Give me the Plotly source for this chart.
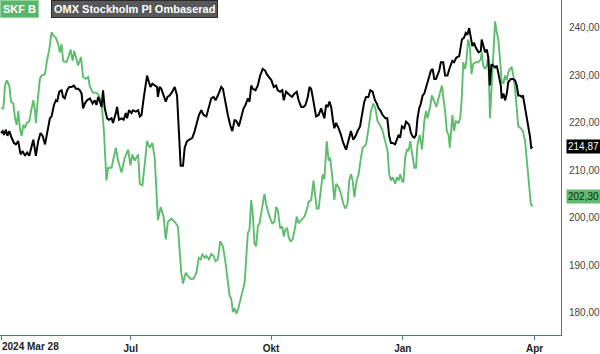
import plotly.graph_objects as go

# ---- data (trading-day index since 2024-03-28, value) ----
skf_day = [0, 1.1, 1.9, 2.7, 3.9, 4.7, 5.8, 6.6, 7.4, 8.1, 8.9, 9.7, 10.5, 11.3, 12.1, 13.3, 14.4, 15.2, 16.0, 16.4,
           17.2, 18.3, 19.1, 20.7, 21.5, 22.7, 23.8, 24.9, 25.8, 26.9, 27.7, 28.5, 29.2, 30.8, 31.9, 32.7, 33.7, 34.4,
           35.5, 36.3, 37.6, 38.6, 39.9, 41.0, 41.8, 43.2, 44.9, 46.0, 47.3, 48.4, 49.6, 50.4, 52.0, 54.0, 55.1, 56.7,
           58.2, 59.8, 60.9, 61.8, 62.9, 64.5, 65.3, 66.5, 67.6, 68.7, 70.0, 71.2, 72.3, 73.8, 75.1, 76.5, 77.5, 78.5,
           80.1, 81.7, 83.2, 84.0, 84.8, 85.6, 86.9, 87.9, 89.1, 90.6, 91.9, 93.0, 93.9, 94.7, 95.8, 96.6, 97.8, 98.9,
           100.0, 100.9, 102.0, 103.1, 104.4, 105.6, 106.4, 107.5, 108.3, 109.1, 109.9, 110.7, 111.4, 112.2, 113.5,
           114.6, 115.4, 116.1, 116.9, 117.7, 118.5, 119.2, 120.0, 120.8, 121.6, 122.9, 123.9, 125.0, 126.3, 127.6,
           128.6, 129.4, 130.2, 131.3, 132.3, 133.0, 133.8, 134.6, 135.4, 136.2, 137.2, 138.4, 139.1, 140.0, 141.2,
           142.7, 143.8, 144.7, 145.9, 147.0, 147.7, 148.5, 149.4, 150.6, 151.3, 152.1, 153.2, 154.1, 154.8, 155.7,
           156.8, 157.6, 158.8, 159.9, 161.0, 162.0, 163.0, 163.8, 164.6, 165.4, 166.2, 167.3, 168.2, 169.3, 170.1,
           170.9, 171.7, 172.9, 174.0, 175.1, 176.1, 177.1, 178.3, 179.5, 180.8, 181.8, 182.6, 183.4, 184.2, 185.4,
           186.2, 187.0, 187.8, 188.6, 189.3, 190.1, 190.9, 191.7, 192.5, 193.6, 194.4, 195.2, 195.9, 197.0, 198.0,
           199.1, 199.9, 200.6, 201.7, 202.7, 203.8, 204.8, 205.8, 206.6, 207.4, 208.1, 208.9, 209.7, 210.5, 211.1,
           211.6, 212.3, 213.1, 213.9, 215.2, 216.0, 216.8, 217.4, 218.3, 218.9, 219.7, 220.5, 221.3, 222.1, 223.3,
           224.6, 225.7, 226.1, 226.8, 227.7, 228.5, 229.2, 230.0, 230.8, 231.6, 232.4, 233.2, 233.9, 234.7, 235.5,
           236.3, 237.1, 237.9, 238.6, 239.4, 240.2, 241.0, 241.8, 242.6, 243.3, 244.5, 245.5, 246.5, 247.6, 248.4,
           249.2, 250.0]
skf = [223.0, 223.0, 227.8, 228.9, 227.8, 224.4, 224.0, 220.9, 219.5, 222.4, 218.8, 217.2, 219.5, 218.8, 219.9, 220.3,
       223.0, 224.7, 222.4, 219.9, 224.4, 229.2, 229.9, 230.2, 232.7, 235.4, 239.0, 238.2, 237.9, 236.5, 234.8, 236.5,
       233.0, 232.7, 234.0, 235.4, 233.0, 235.1, 233.4, 232.0, 233.8, 229.6, 229.2, 229.6, 227.6, 226.3, 226.3, 225.7,
       224.2, 218.2, 207.8, 210.5, 210.5, 214.7, 212.0, 209.5, 212.6, 214.3, 211.0, 213.3, 212.0, 213.3, 207.1, 206.8,
       211.2, 216.1, 214.7, 215.7, 212.6, 199.5, 202.2, 200.2, 195.4, 199.1, 199.8, 199.1, 198.1, 192.6, 188.4, 186.1,
       188.4, 187.7, 187.1, 187.1, 188.4, 191.5, 191.2, 192.3, 191.5, 191.9, 191.2, 192.3, 191.9, 190.8, 191.2, 195.0,
       193.9, 190.5, 187.1, 183.6, 182.9, 180.1, 180.9, 179.8, 180.5, 182.2, 184.3, 186.3, 191.2, 196.7, 197.5, 203.7,
       200.2, 194.6, 193.9, 198.1, 198.8, 202.9, 205.0, 202.2, 200.2, 198.8, 199.1, 202.2, 201.6, 197.7, 198.1, 196.0,
       197.5, 197.7, 195.7, 195.0, 195.4, 198.1, 200.2, 198.8, 199.5, 200.2, 201.6, 203.3, 203.7, 207.8, 205.0, 201.9,
       201.9, 206.4, 209.1, 208.1, 216.1, 212.0, 212.6, 209.1, 203.7, 207.1, 206.4, 205.0, 202.9, 201.9, 202.9, 207.8,
       209.1, 207.8, 204.3, 207.8, 209.1, 212.6, 214.7, 215.0, 215.4, 218.8, 222.4, 224.0, 223.0, 220.3, 219.5, 218.2,
       216.1, 214.1, 209.1, 207.8, 208.5, 207.1, 208.5, 207.8, 209.1, 207.8, 207.4, 212.6, 214.3, 214.0, 216.1, 212.6,
       210.5, 210.5, 215.4, 217.4, 214.3, 220.3, 222.4, 220.9, 223.0, 225.7, 224.4, 223.3, 225.1, 226.5, 227.8, 225.1,
       222.4, 218.2, 217.4, 214.7, 218.2, 221.6, 218.2, 220.3, 219.9, 220.9, 225.7, 232.7, 231.3, 233.0, 237.5, 236.1,
       230.2, 232.3, 232.7, 232.7, 233.4, 234.8, 232.0, 231.3, 232.0, 234.0, 220.9, 228.6, 235.4, 241.3, 239.0, 237.5,
       233.4, 228.6, 228.2, 229.9, 228.9, 230.6, 231.3, 231.6, 229.9, 227.1, 223.0, 219.2, 218.8, 218.2, 216.1, 211.2,
       207.1, 202.9, 202.30]

omx_day = [0, 0.8, 1.4, 2.3, 3.0, 3.9, 5.0, 6.1, 7.0, 8.1, 9.2, 10.2, 11.3, 12.3, 13.3, 14.4, 15.2, 16.4, 17.5, 18.6,
           19.6, 20.7, 21.7, 23.0, 23.8, 24.9, 25.8, 26.4, 27.4, 28.5, 29.2, 30.0, 31.1, 32.1, 33.2, 34.3, 35.2, 36.3,
           37.1, 37.9, 38.6, 39.4, 40.5, 41.8, 43.1, 44.1, 44.9, 45.7, 46.5, 47.3, 48.0, 48.8, 49.9, 50.8, 52.0, 52.7,
           54.0, 54.6, 55.5, 56.7, 57.7, 58.7, 59.3, 60.2, 61.4, 62.1, 63.4, 64.5, 65.3, 66.1, 67.1, 68.1, 68.7, 69.6,
           70.3, 71.2, 72.3, 73.4, 73.8, 74.6, 75.4, 76.5, 77.5, 78.3, 79.3, 80.6, 81.7, 82.8, 83.7, 84.5, 85.6, 86.4,
           87.5, 88.7, 90.0, 91.1, 92.2, 93.1, 94.2, 95.3, 96.6, 97.8, 98.9, 100.0, 100.9, 102.0, 103.6, 104.4, 105.6,
           106.7, 107.8, 108.8, 109.9, 110.9, 111.9, 113.0, 114.1, 115.0, 116.1, 116.9, 117.7, 118.5, 119.7, 120.8,
           121.9, 123.1, 124.3, 125.0, 126.0, 127.2, 128.3, 129.4, 130.2, 131.3, 132.3, 133.0, 134.1, 134.9, 136.0,
           136.9, 138.0, 139.1, 140.0, 141.2, 142.3, 143.2, 144.3, 145.1, 145.9, 146.6, 147.4, 148.2, 149.4, 150.6,
           151.3, 152.1, 152.9, 153.7, 154.5, 155.3, 156.0, 156.8, 157.6, 158.8, 159.9, 161.0, 162.3, 163.5, 164.6,
           165.7, 166.7, 167.7, 168.9, 169.5, 170.1, 170.9, 171.7, 172.8, 173.7, 174.8, 175.9, 176.8, 177.6, 178.4,
           179.5, 180.8, 181.7, 182.6, 183.4, 184.2, 185.4, 186.2, 187.0, 187.7, 188.6, 189.7, 190.5, 191.2, 192.0,
           192.8, 193.6, 194.4, 195.2, 195.9, 196.7, 197.5, 198.3, 199.1, 199.9, 200.6, 201.4, 202.2, 203.0, 203.8,
           204.6, 205.3, 206.1, 206.9, 208.0, 208.9, 210.0, 211.1, 212.3, 213.1, 214.2, 215.5, 216.8, 217.8, 218.6,
           219.4, 220.2, 221.0, 221.7, 222.5, 223.3, 224.6, 225.7, 226.1, 226.9, 227.7, 228.5, 229.2, 229.9, 230.7,
           231.5, 232.4, 233.2, 234.3, 235.1, 235.5, 236.3, 237.1, 237.9, 238.6, 239.8, 240.8, 241.8, 242.6, 243.3,
           244.1, 244.9, 245.5, 246.5, 247.3, 248.0, 248.8, 249.4, 250.0]
omx = [217.8, 218.2, 217.4, 218.5, 217.2, 218.2, 216.8, 215.7, 215.4, 216.1, 213.3, 214.0, 213.0, 213.7, 213.0, 214.7,
       216.4, 213.0, 216.1, 217.8, 217.2, 215.4, 218.2, 220.9, 221.3, 223.7, 224.7, 224.4, 226.5, 226.8, 225.4, 225.1,
       226.8, 227.5, 227.5, 227.8, 227.1, 227.1, 226.8, 226.1, 223.0, 224.0, 224.7, 225.1, 224.0, 224.7, 223.7, 225.4,
       224.4, 223.3, 226.8, 223.0, 220.9, 220.6, 220.9, 219.9, 222.0, 223.3, 220.6, 220.9, 220.6, 222.0, 220.9, 222.6,
       222.0, 222.6, 222.3, 222.6, 221.3, 221.6, 225.1, 227.8, 229.9, 228.5, 227.5, 228.2, 227.8, 227.5, 225.4, 227.5,
       227.1, 225.4, 224.4, 225.4, 225.7, 226.5, 227.5, 225.7, 218.8, 210.9, 210.9, 214.7, 216.1, 216.4, 216.8, 218.2,
       219.9, 221.6, 222.6, 221.6, 221.3, 223.3, 225.1, 225.4, 224.7, 225.7, 227.5, 227.1, 224.0, 221.6, 219.5, 218.2,
       220.6, 220.2, 219.2, 221.3, 223.0, 223.7, 225.1, 224.4, 227.8, 227.1, 226.8, 227.8, 229.9, 231.3, 230.9, 230.2,
       229.6, 228.9, 227.5, 227.8, 226.8, 226.5, 226.8, 224.7, 226.5, 226.1, 225.7, 225.4, 226.1, 226.5, 224.7, 223.3,
       223.3, 223.7, 225.4, 227.5, 227.1, 225.4, 223.3, 221.3, 221.6, 223.0, 222.0, 220.9, 223.7, 223.3, 224.4, 223.3,
       220.9, 218.8, 219.9, 218.8, 217.4, 215.7, 214.3, 216.1, 218.2, 216.4, 217.1, 218.2, 219.2, 220.9, 222.6, 224.4,
       225.4, 225.4, 226.8, 226.5, 224.7, 224.0, 223.0, 222.6, 221.6, 220.9, 220.9, 217.1, 215.7, 215.7, 215.4, 216.4,
       217.4, 216.8, 219.2, 218.8, 220.2, 219.9, 219.5, 217.8, 217.1, 216.8, 217.4, 220.9, 223.0, 224.0, 225.7, 226.1,
       227.5, 228.5, 229.9, 230.9, 231.3, 229.2, 229.2, 230.2, 230.9, 232.7, 232.7, 229.9, 229.9, 231.6, 233.0, 232.7,
       233.7, 234.0, 237.5, 237.9, 238.9, 238.5, 239.9, 237.9, 236.1, 236.8, 235.8, 234.8, 235.1, 237.5, 236.1, 234.8,
       235.4, 233.7, 227.8, 232.3, 232.0, 231.6, 232.0, 229.6, 227.8, 225.1, 226.1, 224.7, 226.1, 228.5, 229.2, 229.2,
       228.9, 227.8, 225.7, 225.7, 225.4, 225.7, 223.0, 220.9, 219.5, 217.1, 214.7, 214.87]

series_names = ["SKF B", "OMX Stockholm PI Ombaserad"]
x_tick_days = [0, 61, 127, 189, 251]
x_tick_labels = ["2024 Mar 28", "Jul", "Okt", "Jan", "Apr"]
y_tick_vals = [180, 190, 200, 210, 220, 230, 240]
y_tick_labels = ["180,00", "190,00", "200,00", "210,00", "220,00", "230,00", "240,00"]

GREEN = "#5dbd6d"
AXIS = "#4a7792"
FONT = "Arial, Liberation Sans, sans-serif"

x_range = [-0.47, 263.4]
y_range = [175.27, 245.81]

fig = go.Figure()
fig.add_trace(go.Scatter(x=skf_day, y=skf, mode="lines", name=series_names[0],
                         line=dict(color=GREEN, width=1.9), hoverinfo="skip"))
fig.add_trace(go.Scatter(x=omx_day, y=omx, mode="lines", name=series_names[1],
                         line=dict(color="#000000", width=2), hoverinfo="skip"))

# end-value pointer labels
green_label_y = skf[-1] + 2.1  # lifted to clear the 200,00 tick label
black_label_y = omx[-1]
tri_x = x_range[1] + 1.6
fig.add_trace(go.Scatter(x=[tri_x, tri_x], y=[green_label_y, black_label_y], mode="markers",
                         marker=dict(symbol="triangle-left", size=8, color=[GREEN, "#000000"]),
                         cliponaxis=False, hoverinfo="skip", showlegend=False))


def fmt(v):
    return f"{v:.2f}".replace(".", ",")


fig.add_annotation(xref="paper", yref="y", x=1, y=green_label_y, xanchor="left", yanchor="middle",
                   xshift=5, text=fmt(skf[-1]), showarrow=False, bgcolor=GREEN, borderpad=1,
                   font=dict(family=FONT, size=10, color="#102a10"))
fig.add_annotation(xref="paper", yref="y", x=1, y=black_label_y, xanchor="left", yanchor="middle",
                   xshift=5, text=fmt(omx[-1]), showarrow=False, bgcolor="#000000", borderpad=1,
                   font=dict(family=FONT, size=10, color="#ffffff"))

# legend boxes
fig.add_annotation(xref="paper", yref="paper", x=0, y=1, xanchor="left", yanchor="top",
                   text="<b>" + series_names[0] + "</b>", showarrow=False, bgcolor="#5bb56c",
                   bordercolor="#8fd39b", borderwidth=1, borderpad=2,
                   font=dict(family=FONT, size=11, color="#ffffff"))
fig.add_annotation(xref="paper", yref="paper", x=0, y=1, xanchor="left", yanchor="top", xshift=51,
                   text="<b>" + series_names[1] + "</b>", showarrow=False, bgcolor="#595959",
                   bordercolor="#2a2a2a", borderwidth=1, borderpad=2,
                   font=dict(family=FONT, size=11, color="#ffffff"))

# first x label, left aligned at its tick
fig.add_annotation(xref="x", yref="paper", x=x_tick_days[0], y=0, xanchor="left", yanchor="top",
                   xshift=-1, yshift=-4, text="<b>" + x_tick_labels[0] + "</b>", showarrow=False,
                   font=dict(family=FONT, size=10, color="#222222"))

fig.update_layout(
    width=600, height=354,
    margin=dict(l=0, r=38, t=0, b=14, pad=0),
    paper_bgcolor="white", plot_bgcolor="white",
    showlegend=False,
    xaxis=dict(range=x_range, showgrid=False, zeroline=False, showline=True, linecolor=AXIS, linewidth=1,
               tickvals=x_tick_days, ticktext=[""] + ["<b>" + t + "</b>" for t in x_tick_labels[1:]],
               ticks="outside", ticklen=4, tickcolor=AXIS,
               tickfont=dict(family=FONT, size=10, color="#222222"), fixedrange=True),
    yaxis=dict(range=y_range, side="right", showgrid=False, zeroline=False, showline=True, linecolor=AXIS,
               linewidth=1, tickvals=y_tick_vals, ticktext=y_tick_labels, ticks="",
               ticklabelstandoff=5,
               tickfont=dict(family=FONT, size=10, color="#444444"), fixedrange=True),
)

fig.write_html("out.html")
